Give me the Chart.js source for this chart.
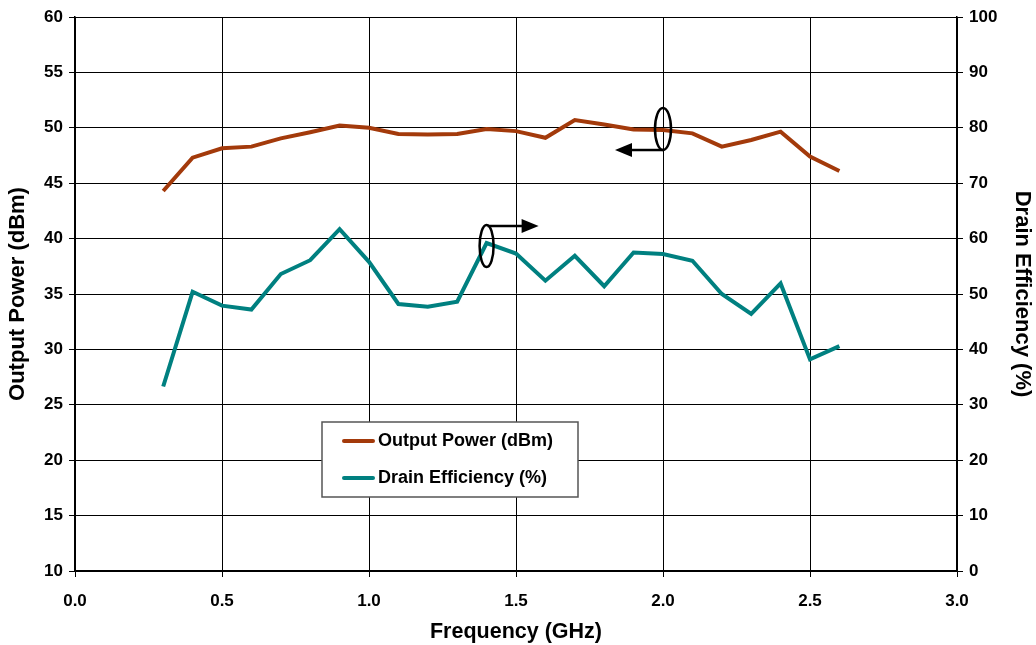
<!DOCTYPE html>
<html>
<head>
<meta charset="utf-8">
<script src="https://cdn.jsdelivr.net/npm/chart.js@4"></script>
<style>
  body { margin: 0; background: #fff; }
</style>
</head>
<body>
<canvas id="myChart" width="1036" height="645"></canvas>
<script>
// frequency points (GHz) and the two measured curves
var freq = [0.3, 0.4, 0.5, 0.6, 0.7, 0.8, 0.9, 1.0, 1.1, 1.2, 1.3, 1.4,
            1.5, 1.6, 1.7, 1.8, 1.9, 2.0, 2.1, 2.2, 2.3, 2.4, 2.5, 2.6];
var outPower = [44.3, 47.3, 48.15, 48.3, 49.05, 49.6, 50.2, 50.0, 49.45, 49.4, 49.45, 49.9,
                49.7, 49.1, 50.7, 50.3, 49.85, 49.8, 49.5, 48.3, 48.9, 49.65, 47.4, 46.1];
var drainEff = [33.3, 50.4, 47.9, 47.2, 53.6, 56.1, 61.7, 55.8, 48.2, 47.7, 48.6, 59.2,
                57.3, 52.4, 56.9, 51.4, 57.5, 57.2, 56.0, 50.0, 46.4, 51.9, 38.2, 40.6];
var seriesNames = ["Output Power (dBm)", "Drain Efficiency (%)"];
var seriesColors = ["#A33A0B", "#008080"];

var font = "'Liberation Sans', Arial, sans-serif";

function pts(ys) {
  var out = [];
  for (var i = 0; i < freq.length; i++) out.push({x: freq[i], y: ys[i]});
  return out;
}

// legend box + the ellipse/arrow annotations
var extras = {
  id: "extras",
  afterDatasetsDraw: function(chart) {
    var ctx = chart.ctx;
    var xs = chart.scales.x, yl = chart.scales.y, yr = chart.scales.y2;
    ctx.save();

    // ellipse on output power curve, arrow to the left axis
    ctx.strokeStyle = "#000";
    ctx.fillStyle = "#000";
    ctx.lineWidth = 2.5;
    var cx = xs.getPixelForValue(2.0), cy = yl.getPixelForValue(49.8);
    ctx.beginPath();
    ctx.ellipse(cx, cy - 1, 8, 21, 0, 0, Math.PI * 2);
    ctx.stroke();
    ctx.beginPath();
    ctx.moveTo(cx, cy + 20);
    ctx.lineTo(cx - 32, cy + 20);
    ctx.stroke();
    ctx.beginPath();
    ctx.moveTo(cx - 48, cy + 20);
    ctx.lineTo(cx - 31, cy + 13);
    ctx.lineTo(cx - 31, cy + 27);
    ctx.closePath();
    ctx.fill();

    // ellipse on efficiency curve, arrow to the right axis
    var ex = xs.getPixelForValue(1.4), ey = yr.getPixelForValue(59.2);
    ctx.beginPath();
    ctx.ellipse(ex, ey + 3, 7, 21, 0, 0, Math.PI * 2);
    ctx.stroke();
    ctx.beginPath();
    ctx.moveTo(ex + 1, ey - 17);
    ctx.lineTo(ex + 36, ey - 17);
    ctx.stroke();
    ctx.beginPath();
    ctx.moveTo(ex + 52, ey - 17);
    ctx.lineTo(ex + 35, ey - 24);
    ctx.lineTo(ex + 35, ey - 10);
    ctx.closePath();
    ctx.fill();

    // legend
    var lx = 322, ly = 422, lw = 256, lh = 75;
    ctx.fillStyle = "#fff";
    ctx.fillRect(lx, ly, lw, lh);
    ctx.strokeStyle = "#555";
    ctx.lineWidth = 1.5;
    ctx.strokeRect(lx, ly, lw, lh);
    ctx.font = "bold 18px " + font;
    ctx.textBaseline = "middle";
    ctx.lineCap = "round";
    for (var i = 0; i < seriesNames.length; i++) {
      var yy = ly + 19 + i * 37;
      ctx.strokeStyle = seriesColors[i];
      ctx.lineWidth = 4;
      ctx.beginPath();
      ctx.moveTo(lx + 22, yy);
      ctx.lineTo(lx + 51, yy);
      ctx.stroke();
      ctx.fillStyle = "#000";
      ctx.fillText(seriesNames[i], lx + 56, yy);
    }
    ctx.restore();
  }
};

new Chart("myChart", {
  type: "line",
  data: {
    datasets: [{
      label: seriesNames[0],
      data: pts(outPower),
      borderColor: seriesColors[0],
      borderWidth: 4,
      pointRadius: 0,
      yAxisID: "y"
    }, {
      label: seriesNames[1],
      data: pts(drainEff),
      borderColor: seriesColors[1],
      borderWidth: 4,
      pointRadius: 0,
      yAxisID: "y2"
    }]
  },
  options: {
    responsive: false,
    animation: false,
    devicePixelRatio: 1,
    layout: {padding: {top: 17, left: 0, right: 0, bottom: 0}},
    plugins: {legend: {display: false}, tooltip: {enabled: false}},
    scales: {
      x: {
        type: "linear", min: 0, max: 3,
        ticks: {stepSize: 0.5, color: "#000", font: {family: font, size: 17, weight: "bold"},
                callback: function(v) { return v.toFixed(1); }, padding: 14},
        grid: {color: "#000", lineWidth: 1, tickLength: 6},
        border: {color: "#000", width: 1.5},
        title: {display: true, text: "Frequency (GHz)", color: "#000",
                font: {family: font, size: 21.5, weight: "bold"}, padding: {top: 4, bottom: 0}},
        afterFit: function(s) { s.height = 74; }
      },
      y: {
        position: "left", min: 10, max: 60,
        ticks: {stepSize: 5, color: "#000", font: {family: font, size: 17, weight: "bold"}, padding: 6},
        grid: {color: "#000", lineWidth: 1, tickLength: 6},
        border: {color: "#000", width: 1.5},
        title: {display: true, text: "Output Power (dBm)", color: "#000",
                font: {family: font, size: 22, weight: "bold"}, padding: {top: 5, bottom: 0}},
        afterFit: function(s) { s.width = 75; }
      },
      y2: {
        position: "right", min: 0, max: 100,
        ticks: {stepSize: 10, color: "#000", font: {family: font, size: 17, weight: "bold"}, padding: 6},
        grid: {drawOnChartArea: false, color: "#000", tickLength: 6},
        border: {color: "#000", width: 1.5},
        title: {display: true, text: "Drain Efficiency (%)", color: "#000",
                font: {family: font, size: 22, weight: "bold"}, padding: {top: 1, bottom: 0}},
        afterFit: function(s) { s.width = 79; }
      }
    }
  },
  plugins: [extras]
});
</script>
</body>
</html>
